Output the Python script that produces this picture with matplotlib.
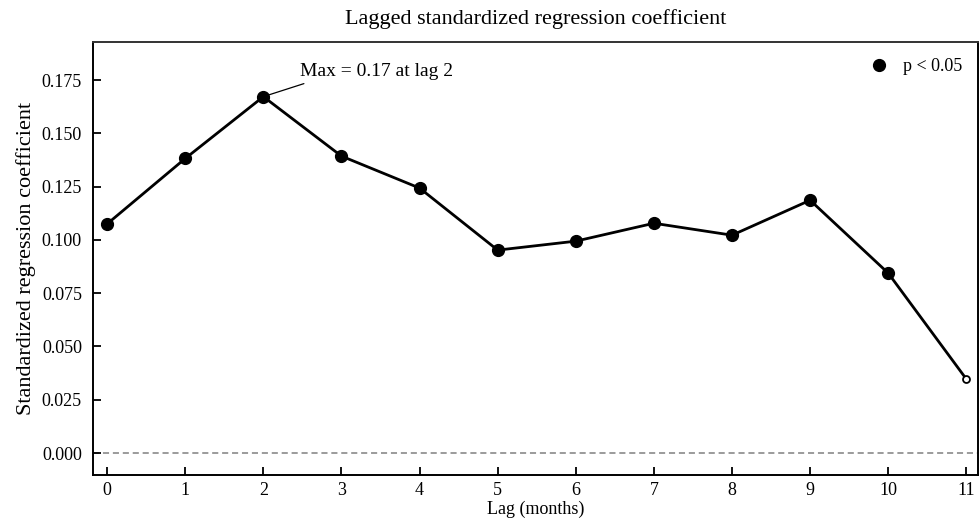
import numpy as np
import matplotlib
matplotlib.use("Agg")
from matplotlib import pyplot as plt

plt.rcParams['font.family'] = ['Liberation Serif', 'DejaVu Serif']

lags = [0, 1, 2, 3, 4, 5, 6, 7, 8, 9, 10, 11]
coefs = [0.1075, 0.1382, 0.1672, 0.1393, 0.1243, 0.0952, 0.0994, 0.1078, 0.1022, 0.1186, 0.0844, 0.0347]
signif = [True, True, True, True, True, True, True, True, True, True, True, False]
yticks = [0.000, 0.025, 0.050, 0.075, 0.100, 0.125, 0.150, 0.175]

fig = plt.figure(figsize=(9.8, 5.26), dpi=100)
ax = fig.add_axes([0.095, 0.097, 0.903, 0.823])

ax.axhline(0, color='gray', lw=1.1, ls='--', dashes=(4, 2.5), zorder=1)
ax.plot(lags, coefs, color='black', lw=2, zorder=2)

x = np.array(lags)
y = np.array(coefs)
s = np.array(signif)
ax.plot(x[s], y[s], 'o', color='black', ms=8.5, zorder=3, label='p < 0.05')
ax.plot(x[~s], y[~s], 'o', mfc='white', mec='black', mew=1.3, ms=5, zorder=3)

imax = int(np.argmax(coefs))
ax.annotate('Max = %.2f at lag %d' % (coefs[imax], lags[imax]),
            xy=(lags[imax], coefs[imax]), xytext=(2.47, 0.1788),
            ha='left', va='center', fontsize=14,
            arrowprops=dict(arrowstyle='-', lw=0.9, color='black', relpos=(0.09, 0.0), shrinkA=1, shrinkB=4))

ax.set_xlim(-0.18, 11.15)
ax.set_ylim(-0.0103, 0.1928)
ax.set_xticks(lags)
ax.set_yticks(yticks)
ax.set_yticklabels(['%.3f' % v for v in yticks])
ax.tick_params(direction='in', length=6, width=1.3, labelsize=13, colors='black')
ax.tick_params(axis='x', pad=5)
ax.tick_params(axis='y', pad=8)
for sp in ax.spines.values():
    sp.set_linewidth(1.4)
ax.spines['top'].set_color('#333333')

ax.set_xlabel('Lag (months)', fontsize=13, labelpad=1)
ax.set_ylabel('Standardized regression coefficient', fontsize=16, labelpad=4)
ax.set_title('Lagged standardized regression coefficient', fontsize=16, pad=13)

ax.legend(loc='upper right', frameon=False, fontsize=13, handletextpad=0.3, borderaxespad=0.5, markerscale=1.0)

fig.savefig('out.png', dpi=100)
